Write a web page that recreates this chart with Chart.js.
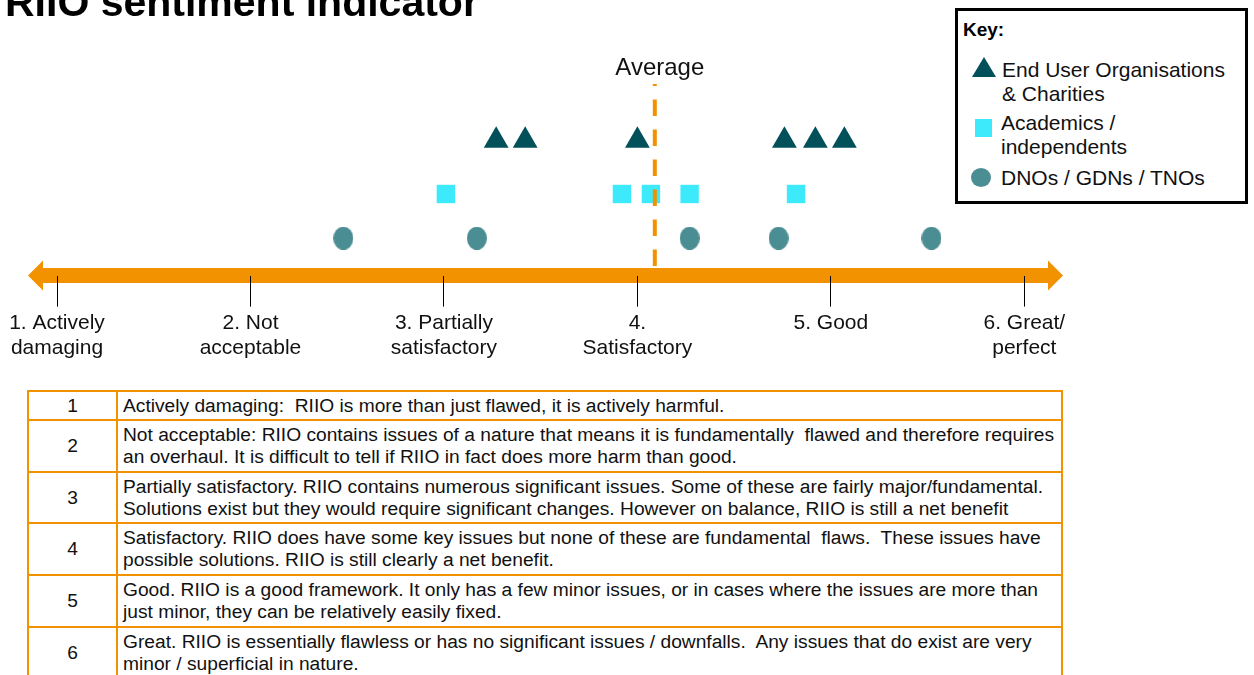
<!DOCTYPE html>
<html>
<head>
<meta charset="utf-8">
<title>RIIO sentiment indicator</title>
<script src="https://cdn.jsdelivr.net/npm/chart.js@4.4.1/dist/chart.umd.min.js"></script>
<style>
  html, body { margin: 0; padding: 0; background: #fff; overflow: hidden; }
  body { width: 1254px; height: 675px; position: relative; font-family: "Liberation Sans", Arial, sans-serif; color: #000; }
  #chart { position: absolute; left: 0; top: 0; }
  #title { position: absolute; left: 5px; top: -18px; font-size: 41px; font-weight: bold; line-height: 41px; white-space: nowrap; }
  #key { position: absolute; left: 955px; top: 8px; width: 293px; height: 196px; border: 3px solid #000; box-sizing: border-box; background: #fff; }
  .kt { position: absolute; font-size: 21px; line-height: 24px; white-space: nowrap; color: #111; }
  #keyHead { position: absolute; left: 963px; top: 19px; font-size: 19px; font-weight: bold; line-height: 22px; }
  .icon { position: absolute; }
  #grid { position: absolute; left: 27px; top: 390px; width: 1036px; box-sizing: border-box; padding: 2px; background: #F39200;
          display: grid; grid-template-columns: 87px 1fr; grid-template-rows: 27px 50px 49px 50px 50px 50px; gap: 2px; }
  #grid div { background: #fff; font-size: 19.2px; line-height: 22px; color: #111; white-space: pre; display: flex; flex-direction: column; justify-content: center; }
  #grid .num { align-items: center; }
  #grid .desc { padding-left: 5px; }
</style>
</head>
<body>
<canvas id="chart" width="1254" height="675"></canvas>
<div id="title">RIIO sentiment indicator</div>

<div id="key"></div>
<div id="keyHead">Key:</div>
<div id="keyItems"></div>

<div id="grid"></div>

<script>
// Rating scale (1 = worst, 6 = best) and its axis captions
const scaleLevels = [1, 2, 3, 4, 5, 6];
const scaleLabels = [
  ['1. Actively', 'damaging'],
  ['2. Not', 'acceptable'],
  ['3. Partially', 'satisfactory'],
  ['4.', 'Satisfactory'],
  ['5. Good'],
  ['6. Great/', 'perfect']
];

// Scores given by each stakeholder group
const endUserScores  = [3.27, 3.42, 4.00, 4.76, 4.92, 5.07];
const academicScores = [3.01, 3.92, 4.07, 4.27, 4.82];
const networkScores  = [2.48, 3.17, 4.27, 4.73, 5.52];
const averageScore   = 4.09;

// Group names shown in the key
const groupNames = [
  ['End User Organisations', '& Charities'],
  ['Academics /', 'independents'],
  ['DNOs / GDNs / TNOs']
];

// Descriptions of each rating level for the table
const levelDescriptions = [
  ['Actively damaging:  RIIO is more than just flawed, it is actively harmful.'],
  ['Not acceptable: RIIO contains issues of a nature that means it is fundamentally  flawed and therefore requires',
   'an overhaul. It is difficult to tell if RIIO in fact does more harm than good.'],
  ['Partially satisfactory. RIIO contains numerous significant issues. Some of these are fairly major/fundamental.',
   'Solutions exist but they would require significant changes. However on balance, RIIO is still a net benefit'],
  ['Satisfactory. RIIO does have some key issues but none of these are fundamental  flaws.  These issues have',
   'possible solutions. RIIO is still clearly a net benefit.'],
  ['Good. RIIO is a good framework. It only has a few minor issues, or in cases where the issues are more than',
   'just minor, they can be relatively easily fixed.'],
  ['Great. RIIO is essentially flawless or has no significant issues / downfalls.  Any issues that do exist are very',
   'minor / superficial in nature.']
];

// Styling
const ORANGE = '#F39200';
const COL_END_USER = '#02505A';
const COL_ACADEMIC = '#3DEAFB';
const COL_NETWORK  = '#4A8D92';
// Vertical lane for each group on the hidden y axis (0..10)
const LANE = { endUser: 7.05, academic: 4.26, network: 1.95 };

// Oval marker for the network-operator group
function ovalMarker(w, h, color) {
  const c = document.createElement('canvas');
  c.width = w; c.height = h;
  const g = c.getContext('2d');
  g.fillStyle = color;
  g.beginPath();
  g.ellipse(w / 2, h / 2, w / 2, h / 2, 0, 0, Math.PI * 2);
  g.fill();
  return c;
}
const ovalImg = ovalMarker(20, 23, COL_NETWORK);

// Orange double-headed arrow along the rating axis, plus the "Average" caption
const axisArrow = {
  id: 'axisArrow',
  beforeDraw(chart) {
    const { ctx, chartArea, scales: { x } } = chart;
    const y = chartArea.bottom;
    const x0 = x.getPixelForValue(x.min);
    const x1 = x.getPixelForValue(x.max);
    const head = 15, halfHead = 15, halfBody = 7.5;
    ctx.save();
    ctx.fillStyle = ORANGE;
    ctx.beginPath();
    ctx.moveTo(x0, y);
    ctx.lineTo(x0 + head, y - halfHead);
    ctx.lineTo(x0 + head, y - halfBody);
    ctx.lineTo(x1 - head, y - halfBody);
    ctx.lineTo(x1 - head, y - halfHead);
    ctx.lineTo(x1, y);
    ctx.lineTo(x1 - head, y + halfHead);
    ctx.lineTo(x1 - head, y + halfBody);
    ctx.lineTo(x0 + head, y + halfBody);
    ctx.lineTo(x0 + head, y + halfHead);
    ctx.closePath();
    ctx.fill();
    ctx.restore();
  },
  afterDraw(chart) {
    const { ctx, scales: { x } } = chart;
    ctx.save();
    ctx.font = '24px "Liberation Sans", Arial, sans-serif';
    ctx.fillStyle = '#111';
    ctx.textAlign = 'center';
    ctx.textBaseline = 'middle';
    ctx.fillText('Average', x.getPixelForValue(averageScore) + 5, 68);
    ctx.restore();
  }
};

const toPoints = (scores, lane) => scores.map(v => ({ x: v, y: lane }));

new Chart(document.getElementById('chart'), {
  type: 'scatter',
  data: {
    datasets: [
      {
        label: 'Average',
        type: 'line',
        data: [{ x: averageScore, y: 0.5 }, { x: averageScore, y: 10 }],
        borderColor: ORANGE,
        borderWidth: 4,
        borderDash: [16.5, 13.5],
        pointRadius: 0,
        fill: false
      },
      {
        label: groupNames[0].join(' '),
        data: toPoints(endUserScores, LANE.endUser),
        pointStyle: 'triangle',
        pointRadius: 14.3,
        backgroundColor: COL_END_USER,
        borderColor: COL_END_USER,
        borderWidth: 0
      },
      {
        label: groupNames[1].join(' '),
        data: toPoints(academicScores, LANE.academic),
        pointStyle: 'rect',
        pointRadius: 13,
        backgroundColor: COL_ACADEMIC,
        borderColor: COL_ACADEMIC,
        borderWidth: 0
      },
      {
        label: groupNames[2][0],
        data: toPoints(networkScores, LANE.network),
        pointStyle: ovalImg,
        backgroundColor: COL_NETWORK,
        borderWidth: 0
      }
    ]
  },
  options: {
    responsive: false,
    animation: false,
    events: [],
    clip: false,
    layout: { padding: { left: 28, right: 191, top: 84, bottom: 310 } },
    plugins: { legend: { display: false }, tooltip: { enabled: false } },
    scales: {
      x: {
        type: 'linear',
        min: 0.85,
        max: 6.2,
        afterBuildTicks: s => { s.ticks = scaleLevels.map(v => ({ value: v })); },
        border: { display: false },
        grid: { drawOnChartArea: false, drawTicks: true, tickLength: 31, color: '#000', lineWidth: 1 },
        ticks: {
          autoSkip: false,
          maxRotation: 0,
          padding: 4,
          color: '#111',
          font: { family: '"Liberation Sans", Arial, sans-serif', size: 21, lineHeight: 1.2 },
          callback: v => scaleLabels[scaleLevels.indexOf(v)]
        }
      },
      y: { type: 'linear', min: 0, max: 10, display: false }
    }
  },
  plugins: [axisArrow]
});

// Key entries
(function buildKey() {
  const host = document.getElementById('keyItems');
  const icons = [
    `<div class="icon" style="left:972px;top:57px;width:0;height:0;border-left:12.5px solid transparent;border-right:12.5px solid transparent;border-bottom:20px solid ${COL_END_USER};"></div>`,
    `<div class="icon" style="left:975px;top:119px;width:17px;height:18px;background:${COL_ACADEMIC};"></div>`,
    `<div class="icon" style="left:971px;top:168px;width:20px;height:19px;border-radius:50%;background:${COL_NETWORK};"></div>`
  ];
  const textLeft = [1002, 1001, 1001];
  const firstLineCentre = [70, 123, 178];
  let html = '';
  groupNames.forEach((lines, i) => {
    html += icons[i];
    lines.forEach((t, j) => {
      html += `<div class="kt" style="left:${textLeft[i]}px;top:${firstLineCentre[i] - 12 + j * 24}px">${t}</div>`;
    });
  });
  host.innerHTML = html;
})();

// Rating description table
(function buildTable() {
  const grid = document.getElementById('grid');
  let html = '';
  scaleLevels.forEach((lvl, i) => {
    html += `<div class="num">${lvl}</div>`;
    html += `<div class="desc">${levelDescriptions[i].map(l => `<span>${l}</span>`).join('')}</div>`;
  });
  grid.innerHTML = html;
})();
</script>
</body>
</html>
